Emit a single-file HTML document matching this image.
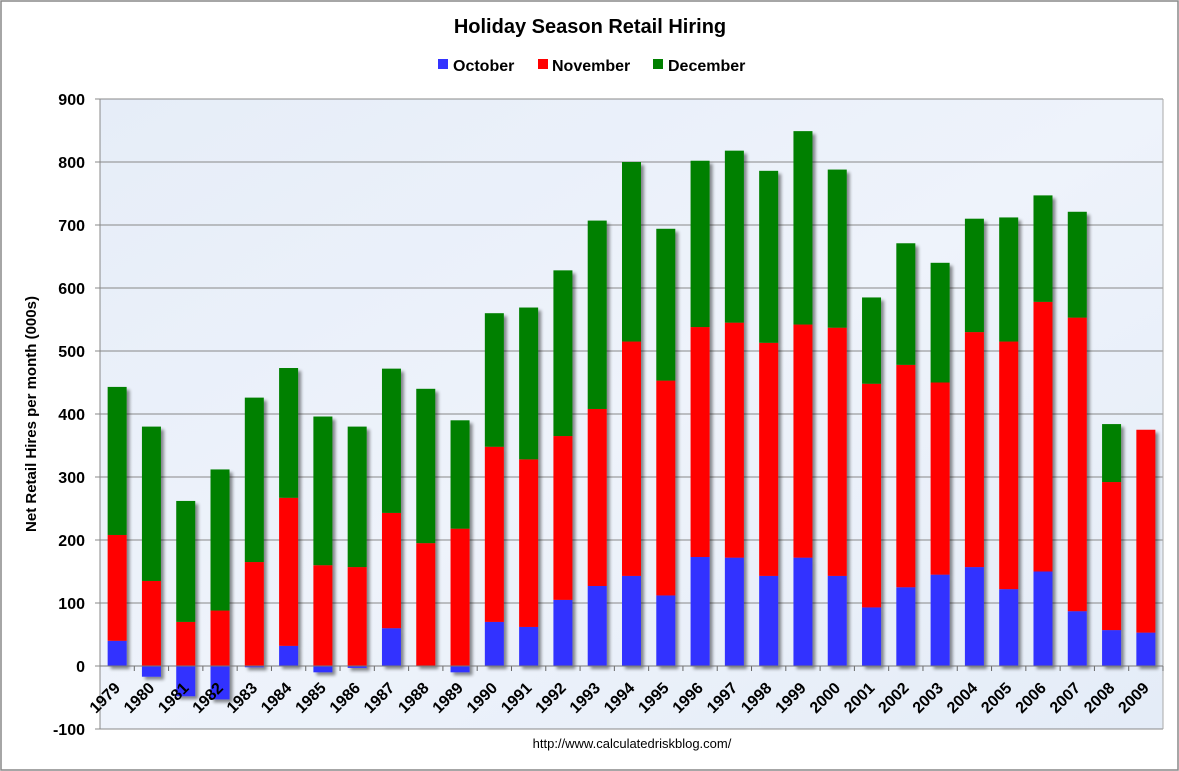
<!DOCTYPE html>
<html><head><meta charset="utf-8">
<style>
html,body{margin:0;padding:0;background:#fff;}
svg{display:block;font-family:"Liberation Sans",sans-serif;}
</style></head>
<body>
<svg id="c" width="1179" height="771" viewBox="0 0 1179 771" xmlns="http://www.w3.org/2000/svg">
<defs>
<filter id="sh" x="-20%" y="-20%" width="160%" height="160%">
<feGaussianBlur in="SourceAlpha" stdDeviation="1.5"/>
<feOffset dx="3" dy="3" result="b"/>
<feComponentTransfer><feFuncA type="linear" slope="0.45"/></feComponentTransfer>
<feMerge><feMergeNode/><feMergeNode in="SourceGraphic"/></feMerge>
</filter>
<linearGradient id="bg" x1="0" y1="0" x2="1" y2="1">
<stop offset="0" stop-color="#e6edf8"/><stop offset="0.5" stop-color="#eef3fb"/><stop offset="1" stop-color="#e4ecf7"/>
</linearGradient>
</defs>
<rect x="1" y="1" width="1177" height="769" fill="#fff" stroke="#888" stroke-width="1.5"/>
<text x="590" y="33" text-anchor="middle" font-size="20" font-weight="bold">Holiday Season Retail Hiring</text>
<rect x="438" y="59" width="10" height="10" fill="#3333ff"/>
<text x="453" y="71" font-size="16" font-weight="bold">October</text>
<rect x="538" y="59" width="10" height="10" fill="#ff0000"/>
<text x="552" y="71" font-size="16" font-weight="bold">November</text>
<rect x="653" y="59" width="10" height="10" fill="#008000"/>
<text x="668" y="71" font-size="16" font-weight="bold">December</text>
<rect x="100" y="99" width="1063" height="630" fill="url(#bg)"/>
<g id="grid"></g>
<g id="bars"></g>
<g id="labels"></g>
<text transform="translate(36,414) rotate(-90)" text-anchor="middle" font-size="15" font-weight="bold">Net Retail Hires per month (000s)</text>
<text x="632" y="748" text-anchor="middle" font-size="13">http://www.calculatedriskblog.com/</text>
</svg>
<script>
var NS="http://www.w3.org/2000/svg";
function el(t,a,p,txt){var e=document.createElementNS(NS,t);for(var k in a)e.setAttribute(k,a[k]);if(txt!=null)e.textContent=txt;p.appendChild(e);return e;}
var Y=function(v){return 666-v*0.63;};
var g=document.getElementById('grid');
for(var v=-100;v<=900;v+=100){
 var y=Y(v);
 if(v>-100) el('line',{x1:100,x2:1163,y1:y,y2:y,stroke:'#888','stroke-width':1},g);
 el('line',{x1:95,x2:100,y1:y,y2:y,stroke:'#888'},g);
 el('text',{x:85,y:y+6,'text-anchor':'end','font-size':16,'font-weight':'bold'},g,String(v));
}
el('line',{x1:100,x2:100,y1:99,y2:729,stroke:'#888'},g);
el('line',{x1:100,x2:1163,y1:729,y2:729,stroke:'#888'},g);
el('line',{x1:1163,x2:1163,y1:99,y2:729,stroke:'#aaa'},g);
var d=[[40,208,443],[-17,135,380],[-48,70,262],[-53,88,312],[-2,165,426],[32,267,473],[-10,160,396],[-3,157,380],[60,243,472],[0,195,440],[-10,218,390],[70,348,560],[62,328,569],[105,365,628],[127,408,707],[143,515,800],[112,453,694],[173,538,802],[172,545,818],[143,513,786],[172,542,849],[143,537,788],[93,448,585],[125,478,671],[145,450,640],[157,530,710],[122,515,712],[150,578,747],[87,553,721],[57,292,384],[53,375,375]];
var b=document.getElementById('bars'),L=document.getElementById('labels');
var cw=1063/31,bw=19;
for(var i=0;i<31;i++){
 var cx=100+cw*(i+0.5),x=cx-bw/2,o=d[i][0],n=d[i][1],dc=d[i][2];
 var gg=el('g',{filter:'url(#sh)'},b);
 var base=0;
 if(o>=0){el('rect',{x:x,y:Y(o),width:bw,height:o*0.63,fill:'#3333ff'},gg);base=o;}
 else{el('rect',{x:x,y:Y(0),width:bw,height:-o*0.63,fill:'#3333ff'},gg);}
 el('rect',{x:x,y:Y(n),width:bw,height:(n-base)*0.63,fill:'#ff0000'},gg);
 if(dc>n) el('rect',{x:x,y:Y(dc),width:bw,height:(dc-n)*0.63,fill:'#008000'},gg);
 var tx=100+cw*(i+1);
 el('line',{x1:tx,x2:tx,y1:666,y2:671,stroke:'#666'},L);
 el('text',{x:0,y:0,'text-anchor':'end','font-size':16,'font-weight':'bold',transform:'translate('+(cx+4)+',689) rotate(-45)'},L,String(1979+i));
}
el('line',{x1:100,x2:1163,y1:666,y2:666,stroke:'#777'},L);
</script>
</body></html>
